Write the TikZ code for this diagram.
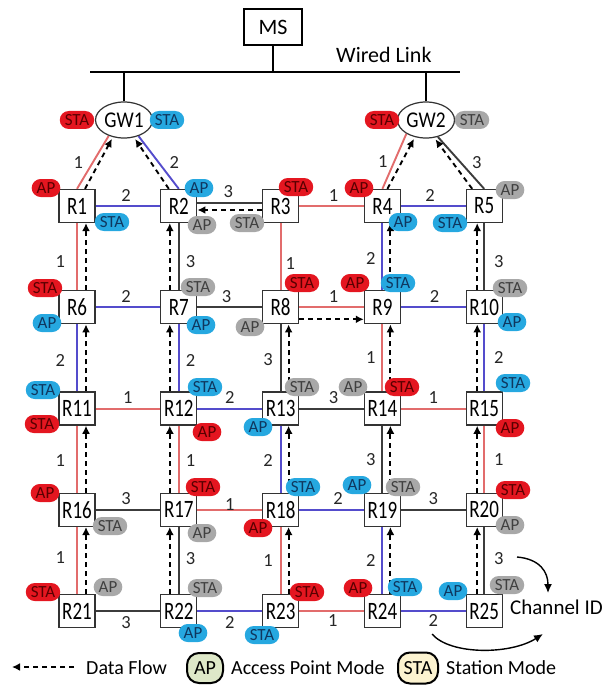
\documentclass[tikz,border=0pt]{standalone}
\usepackage{fontspec}
\setmainfont{Carlito}
\newfontfamily\routerfont[FakeStretch=0.76]{Carlito}
\newfontfamily\gwfont[FakeStretch=0.86]{Carlito}
\usetikzlibrary{arrows.meta,positioning,backgrounds,shapes.geometric}
\definecolor{lnred}{RGB}{226,108,108}
\definecolor{lnblue}{RGB}{84,76,204}
\definecolor{lngray}{RGB}{60,60,60}
\definecolor{tagred}{RGB}{228,22,32}
\definecolor{tagblue}{RGB}{38,168,224}
\definecolor{taggray}{RGB}{168,168,168}
\definecolor{legapfill}{RGB}{222,232,200}
\definecolor{legstafill}{RGB}{252,243,208}
\newcommand{\pxfont}[1]{\fontsize{#1}{#1}\selectfont}

\begin{document}
\begin{tikzpicture}[
  x=1pt, y=-1pt,
  node distance=67pt and 64.5pt,
  router/.style={draw=black!80, fill=white, line width=1.3pt, minimum width=36pt, minimum height=33pt, inner sep=1pt, font=\routerfont\pxfont{25}},
  gw/.style={draw=black!80, fill=white, ellipse, line width=1.2pt, minimum width=57pt, minimum height=36pt, inner sep=0pt, font=\gwfont\pxfont{22.5}},
  tag/.style={rounded corners=9pt, minimum height=18pt, inner xsep=5pt, inner ysep=0pt, text height=11pt, text depth=0pt, font=\pxfont{17}},
  redtag/.style={tag, fill=tagred, text=red!35!black},
  bluetag/.style={tag, fill=tagblue, text={rgb,255:red,15;green,55;blue,95}},
  graytag/.style={tag, fill=taggray, text=black!75},
  ch1/.style={lnred, line width=1.9pt},
  ch2/.style={lnblue, line width=1.9pt},
  ch3/.style={lngray, line width=1.9pt},
  flow/.style={dashed, dash pattern=on 5pt off 4pt, line width=1.9pt, -{Latex[length=8pt,width=8pt]}},
  num/.style={font=\pxfont{18.5}, inner sep=1pt, text=black!85},
  legtxt/.style={font=\pxfont{20}, inner sep=1pt}
]
\useasboundingbox (0,0) rectangle (605,687);
% server and wired link
\node[draw, line width=1.3pt, minimum width=58pt, minimum height=36pt, font=\pxfont{22}] (MS) at (273,27) {MS};
\coordinate (busL) at (90,72);
\coordinate (busR) at (460,72);
\draw[line width=1.8pt] (busL) -- (busR);
\draw[line width=1.8pt] (MS.south) -- (MS.south |- busL);
\node[font=\pxfont{22}, anchor=west, inner sep=0pt] (wired) at (336,55) {Wired Link};
\node[gw] (GW1) at (124,120) {GW1};
\node[gw] (GW2) at (426,120) {GW2};
\draw[line width=1.8pt] (GW1.north) -- (GW1.north |- busL);
\draw[line width=1.8pt] (GW2.north) -- (GW2.north |- busL);
% mesh routers
\node[router] (R1) at (77,206) {R1};
\node[router, right=of R1] (R2) {R2};
\node[router, right=of R2] (R3) {R3};
\node[router, right=of R3] (R4) {R4};
\node[router, right=of R4] (R5) {R5};
\node[router, below=of R1] (R6) {R6};
\node[router, right=of R6] (R7) {R7};
\node[router, right=of R7] (R8) {R8};
\node[router, right=of R8] (R9) {R9};
\node[router, right=of R9] (R10) {R10};
\node[router, below=of R6] (R11) {R11};
\node[router, right=of R11] (R12) {R12};
\node[router, right=of R12] (R13) {R13};
\node[router, right=of R13] (R14) {R14};
\node[router, right=of R14] (R15) {R15};
\node[router, below=of R11] (R16) {R16};
\node[router, right=of R16] (R17) {R17};
\node[router, right=of R17] (R18) {R18};
\node[router, right=of R18] (R19) {R19};
\node[router, right=of R19] (R20) {R20};
\node[router, below=of R16] (R21) {R21};
\node[router, right=of R21] (R22) {R22};
\node[router, right=of R22] (R23) {R23};
\node[router, right=of R23] (R24) {R24};
\node[router, right=of R24] (R25) {R25};
% radio interfaces
\node[redtag] (GW1a) at (77,120) {STA};
\node[bluetag] (GW1b) at (167,120) {STA};
\node[redtag] (GW2a) at (382,120) {STA};
\node[graytag] (GW2b) at (472,120) {STA};
\node[redtag] (R1a) at (46,188) {AP};
\node[bluetag] (R1b) at (112,222) {STA};
\node[bluetag] (R2a) at (199,188) {AP};
\node[graytag] (R2b) at (202,225) {AP};
\node[redtag] (R3a) at (296,187) {STA};
\node[graytag] (R3b) at (247,223) {STA};
\node[redtag] (R4a) at (359,188) {AP};
\node[bluetag] (R4b) at (403,222) {AP};
\node[graytag] (R5a) at (510,190) {AP};
\node[bluetag] (R5b) at (450,223) {STA};
\node[redtag] (R6a) at (45,288) {STA};
\node[bluetag] (R6b) at (47,323) {AP};
\node[graytag] (R7a) at (198,287) {STA};
\node[bluetag] (R7b) at (201,325) {AP};
\node[redtag] (R8a) at (302,283) {STA};
\node[graytag] (R8b) at (250,327) {AP};
\node[redtag] (R9a) at (355,283) {AP};
\node[bluetag] (R9b) at (398,283) {STA};
\node[graytag] (R10a) at (510,288) {STA};
\node[bluetag] (R10b) at (512,322) {AP};
\node[bluetag] (R11a) at (43,390) {STA};
\node[redtag] (R11b) at (42,424) {STA};
\node[bluetag] (R12a) at (205,387) {STA};
\node[redtag] (R12b) at (207,432) {AP};
\node[graytag] (R13a) at (302,387) {STA};
\node[bluetag] (R13b) at (258,427) {AP};
\node[graytag] (R14a) at (353,387) {AP};
\node[redtag] (R14b) at (402,387) {STA};
\node[bluetag] (R15a) at (513,383) {STA};
\node[redtag] (R15b) at (510,428) {AP};
\node[redtag] (R16a) at (45,493) {AP};
\node[graytag] (R16b) at (110,526) {STA};
\node[redtag] (R17a) at (203,487) {STA};
\node[graytag] (R17b) at (202,533) {AP};
\node[bluetag] (R18a) at (303,487) {STA};
\node[redtag] (R18b) at (258,528) {AP};
\node[bluetag] (R19a) at (357,485) {AP};
\node[graytag] (R19b) at (403,487) {STA};
\node[redtag] (R20a) at (513,490) {STA};
\node[graytag] (R20b) at (510,525) {AP};
\node[redtag] (R21a) at (43,592) {STA};
\node[graytag] (R21b) at (108,587) {AP};
\node[graytag] (R22a) at (205,588) {STA};
\node[bluetag] (R22b) at (193,633) {AP};
\node[redtag] (R23a) at (307,592) {STA};
\node[bluetag] (R23b) at (262,635) {STA};
\node[redtag] (R24a) at (358,588) {AP};
\node[bluetag] (R24b) at (405,587) {STA};
\node[bluetag] (R25a) at (453,591) {AP};
\node[graytag] (R25b) at (507,585) {STA};
% links and data flow
\begin{scope}[on background layer]
\draw[ch1] (R1.north) -- node[num, left=8pt] {1} (GW1.226);
\draw[ch2] (R2.north) -- node[num, right=9pt] {2} (GW1.312);
\draw[ch1] (R4.north) -- node[num, left=5pt] {1} (GW2.215);
\draw[ch3] (R5.north) -- node[num, right=9pt] {3} (GW2.305);
\draw[flow, shorten >=2pt] ([xshift=8pt]R1.north) -- (GW1.237);
\draw[flow, shorten >=2pt] ([xshift=-10pt]R2.north) -- (GW1.300);
\draw[flow, shorten >=2pt] ([xshift=5pt]R4.north) -- (GW2.237);
\draw[flow, shorten >=2pt] ([xshift=-12pt]R5.north) -- (GW2.295);
% rows
\draw[ch2] (R1) -- node[num, above=3pt, pos=.47] {2} (R2);
\draw[ch3] ([yshift=3pt]R2.east) -- node[num, above=3pt, pos=.48] {3} ([yshift=3pt]R3.west);
\draw[ch1] (R3) -- node[num, above=3pt, pos=.53] {1} (R4);
\draw[ch2] (R4) -- node[num, above=3pt, pos=.45] {2} (R5);
\draw[ch2] (R6) -- node[num, above=3pt, pos=.47] {2} (R7);
\draw[ch3] (R7) -- node[num, above=3pt, pos=.45] {3} (R8);
\draw[ch1] (R8) -- node[num, above=3pt, pos=.53] {1} (R9);
\draw[ch2] (R9) -- node[num, above=3pt, pos=.52] {2} (R10);
\draw[ch1] (R11) -- node[num, above=3pt, pos=.5] {1} (R12);
\draw[ch2] (R12) -- node[num, above=3pt, pos=.5] {2} (R13);
\draw[ch3] (R13) -- node[num, above=3pt, pos=.53] {3} (R14);
\draw[ch1] (R14) -- node[num, above=3pt, pos=.5] {1} (R15);
\draw[ch3] (R16) -- node[num, above=3pt, pos=.47] {3} (R17);
\draw[ch1] (R17) -- node[num, above=-3pt, pos=.5] {1} (R18);
\draw[ch2] (R18) -- node[num, above=3pt, pos=.6] {2} (R19);
\draw[ch3] (R19) -- node[num, above=3pt, pos=.5] {3} (R20);
\draw[ch3] (R21) -- node[num, below=3pt, pos=.47] {3} (R22);
\draw[ch2] (R22) -- node[num, below=3pt, pos=.5] {2} (R23);
\draw[ch1] (R23) -- node[num, below=1pt, pos=.52] {1} (R24);
\draw[ch2] (R24) -- node[num, below=1pt, pos=.5] {2} (R25);
% columns
\draw[ch1] (R1) -- node[num, left=10pt, pos=.58] {1} (R6);
\draw[ch2] (R6) -- node[num, left=10pt, pos=.54] {2} (R11);
\draw[ch1] (R11) -- node[num, left=10pt, pos=.52] {1} (R16);
\draw[ch1] (R16) -- node[num, left=10pt, pos=.46] {1} (R21);
\draw[ch3] (R2) -- node[num, right=5pt, pos=.58] {3} (R7);
\draw[ch2] (R7) -- node[num, right=5pt, pos=.54] {2} (R12);
\draw[ch1] (R12) -- node[num, right=5pt, pos=.52] {1} (R17);
\draw[ch3] (R17) -- node[num, right=5pt, pos=.47] {3} (R22);
\draw[ch1] (R3) -- node[num, right=3pt, pos=.61] {1} (R8);
\draw[ch3] (R8) -- node[num, left=6pt, pos=.52] {3} (R13);
\draw[ch2] (R13) -- node[num, left=6pt, pos=.52] {2} (R18);
\draw[ch1] (R18) -- node[num, left=6pt, pos=.5] {1} (R23);
\draw[ch2] (R4) -- node[num, left=5pt, pos=.53] {2} (R9);
\draw[ch1] (R9) -- node[num, left=5pt, pos=.5] {1} (R14);
\draw[ch3] (R14) -- node[num, left=5pt, pos=.5] {3} (R19);
\draw[ch2] (R19) -- node[num, left=5pt, pos=.5] {2} (R24);
\draw[ch3] (R5) -- node[num, right=8pt, pos=.58] {3} (R10);
\draw[ch2] (R10) -- node[num, right=8pt, pos=.5] {2} (R15);
\draw[ch1] (R15) -- node[num, right=8pt, pos=.5] {1} (R20);
\draw[ch3] (R20) -- node[num, right=8pt, pos=.47] {3} (R25);
% data flow
\draw[flow] ([yshift=-4pt]R3.west) -- ([yshift=-4pt]R2.east);
\draw[flow] ([yshift=-12pt]R8.east) -- ([yshift=-12pt]R9.west);
\draw[flow] ([xshift=9pt]R6.north) -- ([xshift=9pt]R1.south);
\draw[flow] ([xshift=9pt]R11.north) -- ([xshift=9pt]R6.south);
\draw[flow] ([xshift=9pt]R16.north) -- ([xshift=9pt]R11.south);
\draw[flow] ([xshift=9pt]R21.north) -- ([xshift=9pt]R16.south);
\draw[flow] ([xshift=-9pt]R7.north) -- ([xshift=-9pt]R2.south);
\draw[flow] ([xshift=-9pt]R12.north) -- ([xshift=-9pt]R7.south);
\draw[flow] ([xshift=-9pt]R17.north) -- ([xshift=-9pt]R12.south);
\draw[flow] ([xshift=-9pt]R22.north) -- ([xshift=-9pt]R17.south);
\draw[flow] ([xshift=8pt]R13.north) -- ([xshift=8pt]R8.south);
\draw[flow] ([xshift=8pt]R18.north) -- ([xshift=8pt]R13.south);
\draw[flow] ([xshift=8pt]R23.north) -- ([xshift=8pt]R18.south);
\draw[flow] ([xshift=8pt]R9.north) -- ([xshift=8pt]R4.south);
\draw[flow] ([xshift=8pt]R14.north) -- ([xshift=8pt]R9.south);
\draw[flow] ([xshift=8pt]R19.north) -- ([xshift=8pt]R14.south);
\draw[flow] ([xshift=8pt]R24.north) -- ([xshift=8pt]R19.south);
\draw[flow] ([xshift=-7pt]R10.north) -- ([xshift=-7pt]R5.south);
\draw[flow] ([xshift=-7pt]R15.north) -- ([xshift=-7pt]R10.south);
\draw[flow] ([xshift=-7pt]R20.north) -- ([xshift=-7pt]R15.south);
\draw[flow] ([xshift=-7pt]R25.north) -- ([xshift=-7pt]R20.south);
\end{scope}
% channel id
\node[font=\pxfont{21}, anchor=west, inner sep=0pt] (chid) at (510,607) {Channel ID};
\coordinate (cA) at (517,557);
\coordinate (cB) at (432,634);
\coordinate (cC) at (548,593);
\coordinate (cD) at (543,634);
\draw[line width=1.4pt, -{Latex[length=9pt,width=8pt]}] (cA) .. controls (540,559) and (548,572) .. (cC);
\draw[line width=1.4pt, -{Latex[length=9pt,width=8pt]}] (cB) .. controls (450,655) and (510,655) .. (cD);
% legend
\coordinate (lgA) at (74,667);
\coordinate (lgB) at (12,667);
\draw[flow, line width=2.2pt] (lgA) -- (lgB);
\node[legtxt, anchor=west] (lgflow) at (85,668) {Data Flow};
\node[draw, line width=2pt, fill=legapfill, rounded corners=12pt, minimum width=36pt, minimum height=30pt, inner sep=1pt, font=\pxfont{20}] (lgap) at (205,668) {AP};
\node[legtxt, right=6pt of lgap] (lgapt) {Access Point Mode};
\node[draw, line width=2pt, fill=legstafill, rounded corners=12pt, minimum width=40pt, minimum height=31pt, inner sep=1pt, font=\pxfont{20}] (lgsta) at (418,668) {STA};
\node[legtxt, right=6pt of lgsta] (lgstat) {Station Mode};
\end{tikzpicture}
\end{document}
